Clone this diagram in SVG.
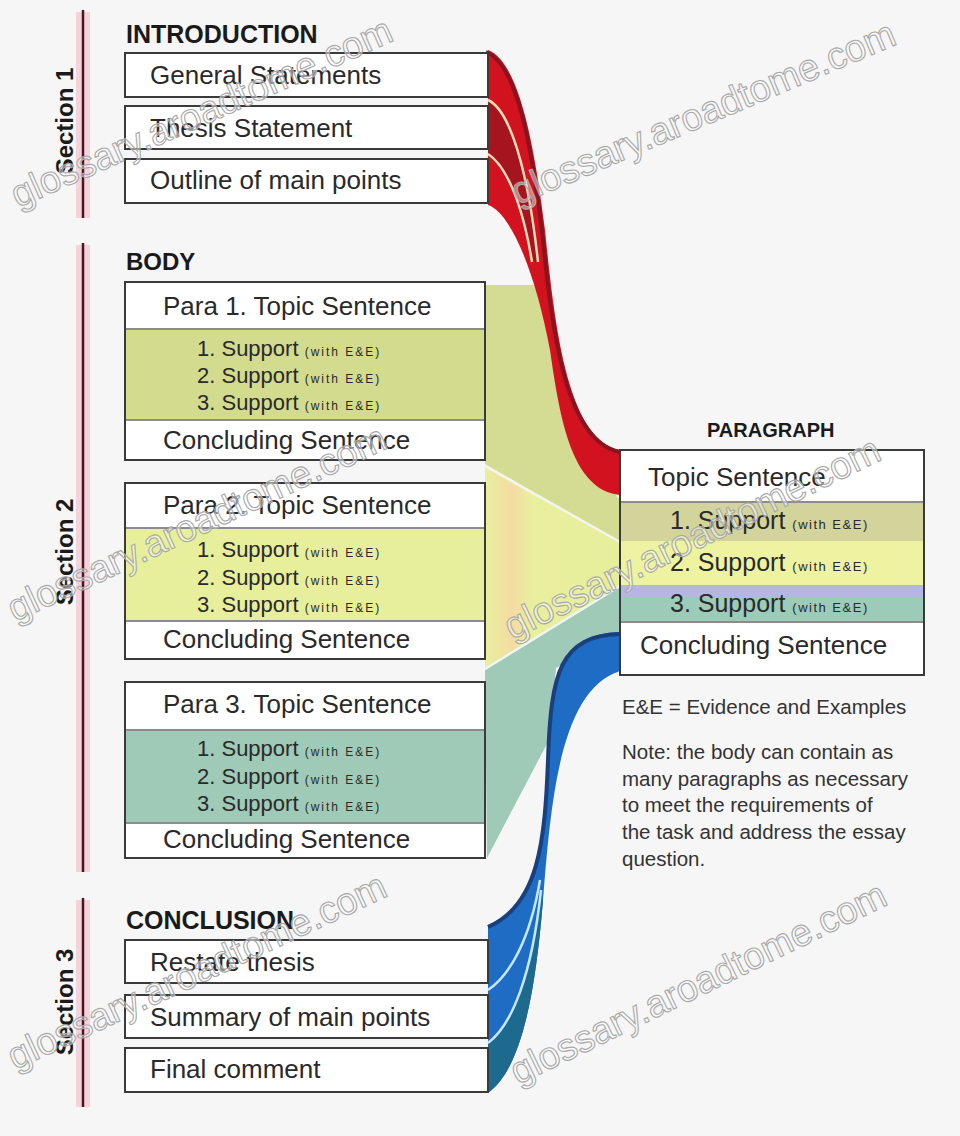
<svg xmlns="http://www.w3.org/2000/svg" width="960" height="1136" viewBox="0 0 960 1136">
<defs>
<style>
.t{font-family:"Liberation Sans",Arial,sans-serif;fill:#2a2a2a;font-size:26px}
.h{font-family:"Liberation Sans",Arial,sans-serif;font-weight:bold;fill:#1a1a1a}
.s{font-size:22px}
.ps{font-size:25px}
.w{font-size:12px;letter-spacing:2px}
.pw{font-size:13px;letter-spacing:1.5px}
.note{font-size:20.5px;fill:#333}
.bg{fill:#fff}
.bd{fill:none;stroke:#3a3a3a;stroke-width:2}
.dv{stroke:#8c8c8c;stroke-width:2}
.sec{stroke:#4a1624;stroke-width:2.5}
.glow{stroke:#f6c3d1;stroke-width:14;opacity:.7}
.wm{font-family:"Liberation Sans",Arial,sans-serif;font-size:38px;fill:#fff;fill-opacity:.45;stroke:#a8a8a8;stroke-width:1.1}
</style>
<linearGradient id="g2" x1="485" y1="0" x2="620" y2="0" gradientUnits="userSpaceOnUse">
<stop offset="0" stop-color="#e8ef9c"/><stop offset=".2" stop-color="#f3dca4"/><stop offset=".35" stop-color="#e9ef9e"/><stop offset="1" stop-color="#e6ee9c"/>
</linearGradient>
</defs>
<rect x="0" y="0" width="960" height="1136" fill="#f6f6f6"/>

<g id="section1">
<line class="glow" x1="83" y1="12" x2="83" y2="218"/>
<line class="sec" x1="83" y1="10" x2="83" y2="218"/>
<text class="h" font-size="24" text-anchor="middle" transform="translate(73,121) rotate(-90)">Section 1</text>
</g>
<g id="section2">
<line class="glow" x1="83" y1="245" x2="83" y2="872"/>
<line class="sec" x1="83" y1="243" x2="83" y2="872"/>
<text class="h" font-size="24" text-anchor="middle" transform="translate(73,552) rotate(-90)">Section 2</text>
</g>
<g id="section3">
<line class="glow" x1="83" y1="900" x2="83" y2="1107"/>
<line class="sec" x1="83" y1="898" x2="83" y2="1107"/>
<text class="h" font-size="24" text-anchor="middle" transform="translate(73,1002) rotate(-90)">Section 3</text>
</g>

<g id="connectors">
<polygon points="485,285 540,285 555,350 567,420 590,465 620,500 620,542 485,464" fill="#d4db92"/>
<polygon points="485,466 620,542 620,585 485,668" fill="url(#g2)"/>
<polygon points="485,670 620,587 620,633 556,668 549,740 487,858" fill="#9fcab8"/>
<line x1="485" y1="466" x2="620" y2="542" stroke="#f5f5ec" stroke-width="2.5"/>
<line x1="485" y1="669" x2="620" y2="586" stroke="#eef6f0" stroke-width="2.5"/>
<path d="M488,50 C520,62 535,150 545,230 C555,330 568,440 620,450 L620,495 C572,490 560,420 550,350 C535,270 510,212 488,205 Z" fill="#d3121f"/>
<path d="M488,100 C510,110 528,170 538,262 L532,262 C522,200 505,165 488,154 Z" fill="#a5141f"/>
<path d="M486,52 C518,64 532,150 542,230 C552,330 565,442 620,452" fill="none" stroke="#8a1320" stroke-width="4"/>
<path d="M488,100 C510,110 528,170 538,262" fill="none" stroke="#f7dcb5" stroke-width="2.5"/>
<path d="M488,154 C505,165 522,200 532,262" fill="none" stroke="#f7dcb5" stroke-width="2.5"/>
<path d="M620,632 C560,634 552,670 549,760 C546,840 540,905 488,925 L488,1093 C520,1070 535,1000 543,900 C551,800 560,690 620,671 Z" fill="#1f6cc4"/>
<path d="M488,1043 C512,1025 532,975 541,890 L543,900 C535,1000 520,1070 488,1093 Z" fill="#1e6a8e"/>
<path d="M620,634 C560,636 551,672 548,760 C545,840 539,905 488,927" fill="none" stroke="#1b3f7c" stroke-width="4"/>
<path d="M488,990 C510,975 530,940 540,880" fill="none" stroke="#c4e8ff" stroke-width="2.5"/>
<path d="M488,1043 C512,1025 532,975 541,890" fill="none" stroke="#c4e8ff" stroke-width="2.5"/>
</g>

<g id="introduction">
<text class="h" font-size="25" x="126" y="43">INTRODUCTION</text>
<rect class="bg" x="125" y="53" width="363" height="44"/><rect class="bd" x="125" y="53" width="363" height="44"/>
<text class="t" x="150" y="84">General Statements</text>
<rect class="bg" x="125" y="106" width="363" height="43"/><rect class="bd" x="125" y="106" width="363" height="43"/>
<text class="t" x="150" y="137">Thesis Statement</text>
<rect class="bg" x="125" y="159" width="363" height="44"/><rect class="bd" x="125" y="159" width="363" height="44"/>
<text class="t" x="150" y="189">Outline of main points</text>
</g>

<g id="body">
<text class="h" font-size="24" x="126" y="270">BODY</text>
</g>

<g id="para1">
<rect class="bg" x="125" y="282" width="360" height="178"/>
<rect x="126" y="330" width="358" height="89" fill="#d3db8f"/>
<line class="dv" x1="126" y1="329" x2="484" y2="329"/>
<line class="dv" x1="126" y1="420" x2="484" y2="420"/>
<rect class="bd" x="125" y="282" width="360" height="178"/>
<text class="t" x="163" y="315">Para 1. Topic Sentence</text>
<text class="t s" x="197" y="356">1. Support <tspan class="w">(with E&amp;E)</tspan></text>
<text class="t s" x="197" y="383">2. Support <tspan class="w">(with E&amp;E)</tspan></text>
<text class="t s" x="197" y="410">3. Support <tspan class="w">(with E&amp;E)</tspan></text>
<text class="t" x="163" y="449">Concluding Sentence</text>
</g>

<g id="para2">
<rect class="bg" x="125" y="483" width="360" height="176"/>
<rect x="126" y="529" width="358" height="91" fill="#e7ef9d"/>
<line class="dv" x1="126" y1="528" x2="484" y2="528"/>
<line class="dv" x1="126" y1="621" x2="484" y2="621"/>
<rect class="bd" x="125" y="483" width="360" height="176"/>
<text class="t" x="163" y="514">Para 2. Topic Sentence</text>
<text class="t s" x="197" y="557">1. Support <tspan class="w">(with E&amp;E)</tspan></text>
<text class="t s" x="197" y="585">2. Support <tspan class="w">(with E&amp;E)</tspan></text>
<text class="t s" x="197" y="612">3. Support <tspan class="w">(with E&amp;E)</tspan></text>
<text class="t" x="163" y="648">Concluding Sentence</text>
</g>

<g id="para3">
<rect class="bg" x="125" y="682" width="360" height="176"/>
<rect x="126" y="731" width="358" height="91" fill="#9ecab7"/>
<line class="dv" x1="126" y1="730" x2="484" y2="730"/>
<line class="dv" x1="126" y1="823" x2="484" y2="823"/>
<rect class="bd" x="125" y="682" width="360" height="176"/>
<text class="t" x="163" y="713">Para 3. Topic Sentence</text>
<text class="t s" x="197" y="756">1. Support <tspan class="w">(with E&amp;E)</tspan></text>
<text class="t s" x="197" y="784">2. Support <tspan class="w">(with E&amp;E)</tspan></text>
<text class="t s" x="197" y="811">3. Support <tspan class="w">(with E&amp;E)</tspan></text>
<text class="t" x="163" y="848">Concluding Sentence</text>
</g>

<g id="conclusion">
<text class="h" font-size="25" x="126" y="929">CONCLUSION</text>
<rect class="bg" x="125" y="940" width="363" height="43"/><rect class="bd" x="125" y="940" width="363" height="43"/>
<text class="t" x="150" y="971">Restate thesis</text>
<rect class="bg" x="125" y="995" width="363" height="43"/><rect class="bd" x="125" y="995" width="363" height="43"/>
<text class="t" x="150" y="1026">Summary of main points</text>
<rect class="bg" x="125" y="1048" width="363" height="44"/><rect class="bd" x="125" y="1048" width="363" height="44"/>
<text class="t" x="150" y="1078">Final comment</text>
</g>

<g id="paragraph">
<text class="h" font-size="20" x="707" y="437">PARAGRAPH</text>
<rect class="bg" x="620" y="450" width="304" height="225"/>
<rect x="621" y="503" width="302" height="38" fill="#d2d49b"/>
<rect x="621" y="541" width="302" height="44" fill="#eef3a2"/>
<rect x="621" y="585" width="302" height="12" fill="#b5b6e2"/>
<rect x="621" y="597" width="302" height="25" fill="#9dcbb9"/>
<line class="dv" x1="621" y1="502" x2="923" y2="502"/>
<line class="dv" x1="621" y1="622" x2="923" y2="622"/>
<rect class="bd" x="620" y="450" width="304" height="225"/>
<text class="t" x="648" y="486">Topic Sentence</text>
<text class="t ps" x="670" y="529">1. Support <tspan class="pw">(with E&amp;E)</tspan></text>
<text class="t ps" x="670" y="571">2. Support <tspan class="pw">(with E&amp;E)</tspan></text>
<text class="t ps" x="670" y="612">3. Support <tspan class="pw">(with E&amp;E)</tspan></text>
<text class="t" x="640" y="654">Concluding Sentence</text>
</g>

<g id="notes">
<text class="t note" x="622" y="714">E&amp;E = Evidence and Examples</text>
<text class="t note" x="622" y="759">Note: the body can contain as</text>
<text class="t note" x="622" y="786">many paragraphs as necessary</text>
<text class="t note" x="622" y="812">to meet the requirements of</text>
<text class="t note" x="622" y="839">the task and address the essay</text>
<text class="t note" x="622" y="866">question.</text>
</g>

<g id="watermarks">
<text class="wm" transform="translate(18,208) rotate(-24)">glossary.aroadtome.com</text>
<text class="wm" transform="translate(518,205) rotate(-23)">glossary.aroadtome.com</text>
<text class="wm" transform="translate(15,622) rotate(-25)">glossary.aroadtome.com</text>
<text class="wm" transform="translate(512,640) rotate(-26)">glossary.aroadtome.com</text>
<text class="wm" transform="translate(15,1070) rotate(-25)">glossary.aroadtome.com</text>
<text class="wm" transform="translate(518,1085) rotate(-26)">glossary.aroadtome.com</text>
</g>
</svg>
